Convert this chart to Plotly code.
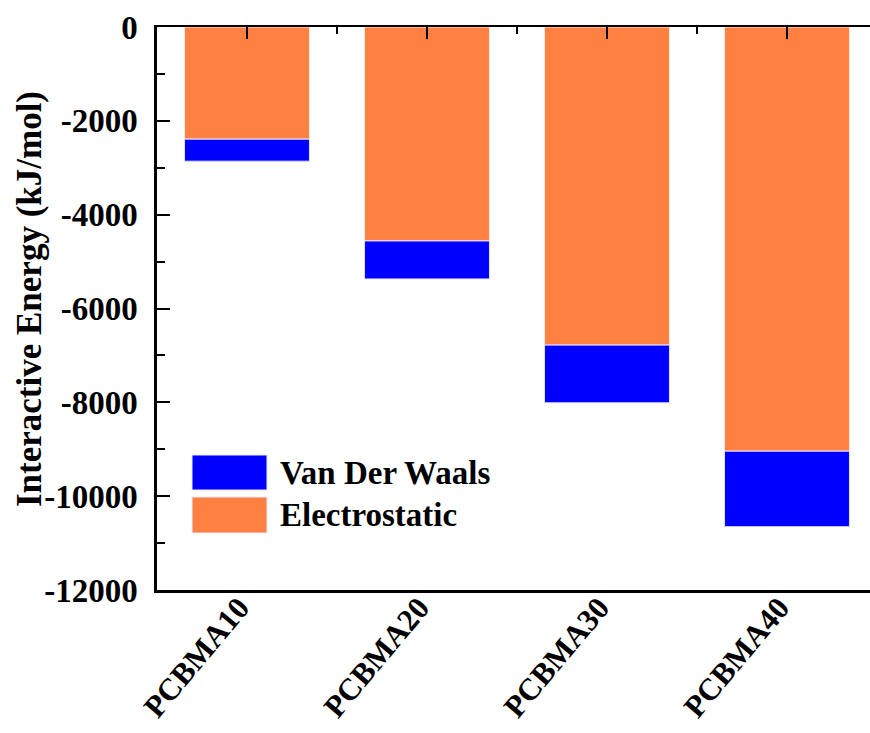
import plotly.graph_objects as go

categories = ["PCBMA10", "PCBMA20", "PCBMA30", "PCBMA40"]
electrostatic = [-2390, -4560, -6780, -9040]
van_der_waals = [-470, -810, -1230, -1610]
y_ticks = [0, -2000, -4000, -6000, -8000, -10000, -12000]

FONT = "Liberation Serif"
ORANGE = "#FF8040"
BLUE = "#0000FF"

xpos = list(range(len(categories)))

fig = go.Figure()
# Electrostatic drawn on the bottom axis, Van der Waals stacked below it (base = electrostatic)
fig.add_trace(go.Bar(x=xpos, y=electrostatic, name="Electrostatic", width=0.694, xaxis="x",
                     marker=dict(color=ORANGE, line=dict(color="#FFE8E0", width=1))))
fig.add_trace(go.Bar(x=xpos, y=van_der_waals, base=electrostatic, name="Van Der Waals",
                     width=0.694, xaxis="x2",
                     marker=dict(color=BLUE, line=dict(color="#E0E0FF", width=1))))

W, H = 870, 733
L, T, B = 157, 27, 143
pw = W - L
xr = [-0.5, -0.5 + pw / 180.0]
fig.update_layout(
    width=W, height=H, barmode="overlay", showlegend=False,
    margin=dict(l=L, r=0, t=T, b=B, pad=0, autoexpand=False),
    paper_bgcolor="white", plot_bgcolor="white",
    font=dict(family=FONT, color="black", size=32, weight="bold"),
    xaxis=dict(range=xr, tickmode="array", tickvals=xpos, ticktext=categories, anchor="y",
               tickangle=-50, showline=True, linecolor="black", linewidth=3, ticks="",
               showgrid=False, zeroline=False, automargin=False,
               ticklabelstandoff=-16, ticklabelshift=-8,
               tickfont=dict(family=FONT, size=31, color="black", weight="bold")),
    xaxis2=dict(overlaying="x", side="top", anchor="y", range=xr, automargin=False,
                tickmode="linear", tick0=0, dtick=1, ticks="inside", ticklen=12, tickwidth=2,
                tickcolor="black", showticklabels=False, showline=True, linecolor="black",
                linewidth=2, showgrid=False, zeroline=False,
                minor=dict(ticks="inside", ticklen=7, tickwidth=2, tickcolor="black",
                           tick0=-0.5, dtick=1, showgrid=False)),
    yaxis=dict(range=[-12000, 0], tickmode="array", tickvals=y_ticks, automargin=False,
               ticktext=[str(v) for v in y_ticks], ticks="inside", ticklen=13, tickwidth=2,
               tickcolor="black", showline=True, linecolor="black", linewidth=2.5,
               showgrid=False, zeroline=False, ticklabelstandoff=10,
               minor=dict(ticks="inside", ticklen=8, tickwidth=2, tickcolor="black",
                          tickvals=[-1000, -3000, -5000, -7000, -9000, -11000], showgrid=False),
               tickfont=dict(family=FONT, size=33, color="black", weight="bold")),
)

def px_x(p):
    return (p - L) / pw

def px_y(p):
    return 1 - (p - T) / (H - T - B)

# legend drawn manually (large swatches as in reference)
legend_items = [("Van Der Waals", BLUE, 455, 490), ("Electrostatic", ORANGE, 497, 533)]
for label, color, y0, y1 in legend_items:
    fig.add_shape(type="rect", xref="paper", yref="paper",
                  x0=px_x(192), x1=px_x(267), y0=px_y(y1), y1=px_y(y0),
                  fillcolor=color, line=dict(color="#E8E8FF", width=1))
    fig.add_annotation(xref="paper", yref="paper", x=px_x(278), y=px_y((y0 + y1) / 2),
                       xanchor="left", yanchor="middle", showarrow=False, text=label,
                       font=dict(family=FONT, size=33, color="black", weight="bold"))

fig.add_annotation(xref="paper", yref="paper", x=px_x(29), y=px_y(299),
                   xanchor="center", yanchor="middle", showarrow=False, textangle=-90,
                   text="Interactive Energy (kJ/mol)",
                   font=dict(family=FONT, size=35, color="black", weight="bold"))

fig.write_html("out.html")
